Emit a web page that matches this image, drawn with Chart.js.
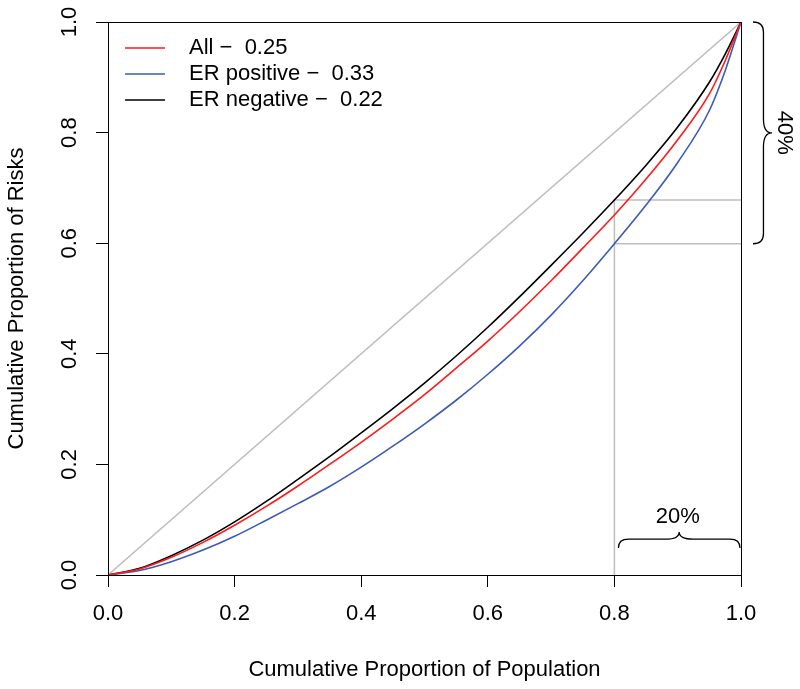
<!DOCTYPE html>
<html>
<head>
<meta charset="utf-8">
<script src="https://cdn.jsdelivr.net/npm/chart.js@4"></script>
<style>
  html, body { margin: 0; padding: 0; background: #fff; }
  #wrap { width: 800px; height: 689px; }
</style>
</head>
<body>
<div id="wrap"><canvas id="lorenz" width="800" height="689"></canvas></div>
<script>
// Lorenz-type curves: cumulative share of risk vs cumulative share of population
const popShare = [0, 0.05, 0.1, 0.15, 0.2, 0.25, 0.3, 0.35, 0.4, 0.45, 0.5,
                  0.55, 0.6, 0.65, 0.7, 0.75, 0.8, 0.85, 0.9, 0.95, 0.975, 1];
const riskAll = [0, 0.011, 0.032, 0.059, 0.090, 0.124, 0.161, 0.200, 0.240, 0.282, 0.326,
                 0.374, 0.423, 0.476, 0.532, 0.591, 0.651, 0.716, 0.787, 0.870, 0.930, 1];
const riskPos = [0, 0.008, 0.024, 0.045, 0.070, 0.099, 0.129, 0.160, 0.195, 0.233, 0.273,
                 0.316, 0.363, 0.414, 0.470, 0.532, 0.599, 0.669, 0.746, 0.840, 0.912, 1];
const riskNeg = [0, 0.012, 0.035, 0.063, 0.096, 0.133, 0.173, 0.214, 0.257, 0.301, 0.347,
                 0.396, 0.448, 0.503, 0.560, 0.618, 0.678, 0.741, 0.810, 0.891, 0.942, 1];
const seriesNames = ['All', 'ER positive', 'ER negative'];
const seriesGini = ['0.25', '0.33', '0.22'];
const seriesColors = ['#ff1a1a', '#3b5bb5', '#000000'];
const xTicks = [0, 0.2, 0.4, 0.6, 0.8, 1];
const yTicks = [0, 0.2, 0.4, 0.6, 0.8, 1];
const cutoff = 0.8;

const FONT = "'Liberation Sans', Arial, Helvetica, sans-serif";
const FS = 22;
Chart.defaults.font.family = FONT;
Chart.defaults.font.size = FS;
Chart.defaults.color = '#000';

const cut = popShare.indexOf(cutoff);
const toPts = arr => arr.map((v, i) => ({ x: popShare[i], y: v }));
const gray = '#bebebe';

function grayLine(pts) {
    return { data: pts, borderColor: gray, borderWidth: 1.5, tension: 0 };
}

const datasets = [
    { label: seriesNames[0], data: toPts(riskAll), borderColor: seriesColors[0] },
    { label: seriesNames[1], data: toPts(riskPos), borderColor: seriesColors[1] },
    { label: seriesNames[2], data: toPts(riskNeg), borderColor: seriesColors[2] },
].map(d => Object.assign(d, { borderWidth: 1.6, cubicInterpolationMode: 'monotone' }));

// equality line and the 80% cut-off guides
datasets.push(grayLine([{ x: 0, y: 0 }, { x: 1, y: 1 }]));
datasets.push(grayLine([{ x: cutoff, y: 0 }, { x: cutoff, y: riskNeg[cut] }]));
datasets.push(grayLine([{ x: cutoff, y: riskNeg[cut] }, { x: 1, y: riskNeg[cut] }]));
datasets.push(grayLine([{ x: cutoff, y: riskPos[cut] }, { x: 1, y: riskPos[cut] }]));

function drawBrace(ctx, x1, y1, x2, y2, depth) {
    const len = Math.hypot(x2 - x1, y2 - y1);
    const m = len / 2, body = -depth * 0.55, tip = -depth, q = 10, q2 = 14;
    ctx.save();
    ctx.translate(x1, y1);
    ctx.rotate(Math.atan2(y2 - y1, x2 - x1));
    ctx.beginPath();
    ctx.moveTo(0, 0);
    ctx.quadraticCurveTo(0, body, q, body);
    ctx.lineTo(m - q2, body);
    ctx.quadraticCurveTo(m, body, m, tip);
    ctx.quadraticCurveTo(m, body, m + q2, body);
    ctx.lineTo(len - q, body);
    ctx.quadraticCurveTo(len, body, len, 0);
    ctx.stroke();
    ctx.restore();
}

const extras = {
    id: 'extras',
    afterDraw(chart) {
        const { ctx, chartArea: a, scales: { x, y } } = chart;
        ctx.save();
        ctx.strokeStyle = '#000';
        ctx.lineWidth = 1;
        ctx.strokeRect(Math.round(a.left) + 0.5, Math.round(a.top) + 0.5,
                       Math.round(a.right - a.left), Math.round(a.bottom - a.top));

        ctx.fillStyle = '#000';
        ctx.font = FS + 'px ' + FONT;
        ctx.textAlign = 'center';
        ctx.textBaseline = 'middle';
        // y tick labels, rotated like R's default
        yTicks.forEach(v => {
            ctx.save();
            ctx.translate(a.left - 38, y.getPixelForValue(v));
            ctx.rotate(-Math.PI / 2);
            ctx.fillText(v.toFixed(1), 0, 0);
            ctx.restore();
        });

        // legend
        ctx.textAlign = 'left';
        seriesNames.forEach((name, i) => {
            const ly = a.top + 26 + i * 26;
            ctx.strokeStyle = seriesColors[i];
            ctx.lineWidth = 1.6;
            ctx.beginPath();
            ctx.moveTo(a.left + 17, ly);
            ctx.lineTo(a.left + 57, ly);
            ctx.stroke();
            ctx.fillText(name + ' \u2212  ' + seriesGini[i], a.left + 81, ly);
        });

        // braces
        ctx.strokeStyle = '#000';
        ctx.lineWidth = 1.3;
        const xc = x.getPixelForValue(cutoff), x1 = x.getPixelForValue(1);
        const yTop = y.getPixelForValue(1), yLow = y.getPixelForValue(riskPos[cut]);
        drawBrace(ctx, xc + 4, a.bottom - 27, x1 - 1, a.bottom - 27, 16);
        drawBrace(ctx, a.right + 12, yTop, a.right + 12, yLow, 19);

        ctx.textAlign = 'center';
        ctx.fillText(Math.round((1 - cutoff) * 100) + '%', (xc + x1) / 2, a.bottom - 58);
        ctx.save();
        ctx.translate(a.right + 43, (yTop + yLow) / 2);
        ctx.rotate(Math.PI / 2);
        ctx.fillText(Math.round((1 - riskPos[cut]) * 100) + '%', 0, 0);
        ctx.restore();
        ctx.restore();
    }
};

const axisGrid = { drawOnChartArea: false, tickLength: 12, color: '#000', tickColor: '#000', lineWidth: 1 };
const axisBorder = { display: true, color: '#000', width: 1 };

new Chart(document.getElementById('lorenz'), {
    type: 'line',
    data: { datasets },
    options: {
        responsive: false,
        animation: false,
        layout: { padding: { left: 0, right: 59, top: 22, bottom: 0 } },
        elements: { point: { radius: 0 } },
        plugins: { legend: { display: false }, tooltip: { enabled: false } },
        scales: {
            x: {
                type: 'linear', min: 0, max: 1,
                afterBuildTicks: s => { s.ticks = xTicks.map(v => ({ value: v })); },
                afterFit: s => { s.height = 114; },
                ticks: { callback: v => v.toFixed(1), padding: 14, maxRotation: 0, autoSkip: false,
                         font: { size: FS, lineHeight: 1.2 } },
                grid: axisGrid,
                border: axisBorder,
                title: { display: true, text: 'Cumulative Proportion of Population',
                         font: { size: FS, lineHeight: 1.2 }, padding: { top: 0, bottom: 6 } }
            },
            y: {
                type: 'linear', min: 0, max: 1,
                afterBuildTicks: s => { s.ticks = yTicks.map(v => ({ value: v })); },
                afterFit: s => { s.width = 108; },
                ticks: { display: false },
                grid: axisGrid,
                border: axisBorder,
                title: { display: true, text: 'Cumulative Proportion of Risks',
                         font: { size: FS, lineHeight: 1.2 }, padding: { top: 4, bottom: 0 } }
            }
        }
    },
    plugins: [extras]
});
</script>
</body>
</html>
